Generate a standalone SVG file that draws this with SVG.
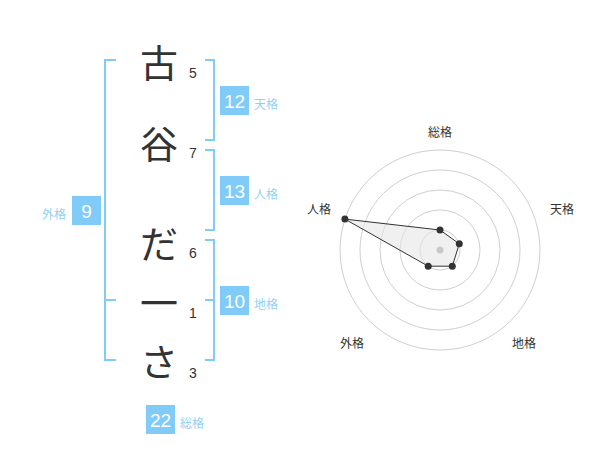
<svg xmlns="http://www.w3.org/2000/svg" width="600" height="470" viewBox="0 0 600 470">
<style>
.ch{font-family:"Noto Sans CJK JP","Noto Sans CJK SC",sans-serif;font-size:38px;fill:#333;text-anchor:middle;dominant-baseline:central}
.num{font-family:"Liberation Sans",Arial,sans-serif;font-size:14px;fill:#333;text-anchor:middle}
.box{fill:#80cbf7}
.bt{font-family:"Liberation Sans",Arial,sans-serif;font-size:19px;fill:#fff;text-anchor:middle}
.lb{font-family:"Noto Sans CJK JP","Noto Sans CJK SC",sans-serif;font-size:12px;fill:#8fd1f7}
.br{fill:none;stroke:#80cbf7;stroke-width:2}
.ring{fill:none;stroke:#cfcfcf;stroke-width:1}
.rl{font-family:"Noto Sans CJK JP","Noto Sans CJK SC",sans-serif;font-size:12px;fill:#333;text-anchor:middle;dominant-baseline:central}
.pt{fill:#333}
</style>
<rect width="600" height="470" fill="#fff"/>
<g id="connectors">
<path class="br" d="M116,60 H105 V360 H116 M105,300 H116"/>
<path class="br" d="M205,60 H214 V140 H205"/>
<path class="br" d="M205,150 H214 V230 H205"/>
<path class="br" d="M205,240 H214 V360 H205 M205,300 H214"/>
</g>
<g id="chars">
<text class="ch" x="159" y="60">古</text>
<text class="ch" x="159" y="141">谷</text>
<text class="ch" x="159" y="241">だ</text>
<text class="ch" x="159" y="300">一</text>
<text class="ch" x="159" y="359">さ</text>
</g>
<g id="strokes">
<text class="num" x="193" y="78">5</text>
<text class="num" x="193" y="158">7</text>
<text class="num" x="193" y="258">6</text>
<text class="num" x="193" y="318">1</text>
<text class="num" x="193" y="378">3</text>
</g>
<g id="tenkaku">
<rect class="box" x="220" y="86" width="29" height="29"/>
<text class="bt" x="234.5" y="107.5">12</text>
<text class="lb" x="254" y="108.5">天格</text>
</g>
<g id="jinkaku">
<rect class="box" x="220" y="176" width="29" height="29"/>
<text class="bt" x="234.5" y="197.5">13</text>
<text class="lb" x="254" y="198.5">人格</text>
</g>
<g id="chikaku">
<rect class="box" x="220" y="286" width="29" height="29"/>
<text class="bt" x="234.5" y="307.5">10</text>
<text class="lb" x="254" y="308.5">地格</text>
</g>
<g id="gaikaku">
<rect class="box" x="72" y="196" width="29" height="29"/>
<text class="bt" x="86.5" y="217.5">9</text>
<text class="lb" x="66" y="218.5" text-anchor="end">外格</text>
</g>
<g id="soukaku">
<rect class="box" x="146" y="405" width="29" height="29"/>
<text class="bt" x="160.5" y="426.5">22</text>
<text class="lb" x="180" y="427.5">総格</text>
</g>
<g id="radar">
<circle class="ring" cx="440" cy="250" r="20"/>
<circle class="ring" cx="440" cy="250" r="40"/>
<circle class="ring" cx="440" cy="250" r="60"/>
<circle class="ring" cx="440" cy="250" r="80"/>
<circle class="ring" cx="440" cy="250" r="100"/>
<polygon points="440,230 459.3,243.8 452.3,266.2 428.2,266.2 344.9,219.1" fill="#e6e6e6" fill-opacity="0.6" stroke="#333" stroke-width="1"/>
<circle cx="440" cy="250" r="3.5" fill="#c8c8c8"/>
<circle class="pt" cx="440" cy="230" r="3.5"/>
<circle class="pt" cx="459.3" cy="243.8" r="3.5"/>
<circle class="pt" cx="452.3" cy="266.2" r="3.5"/>
<circle class="pt" cx="428.2" cy="266.2" r="3.5"/>
<circle class="pt" cx="344.9" cy="219.1" r="3.5"/>
<text class="rl" x="440" y="131">総格</text>
<text class="rl" x="562" y="208">天格</text>
<text class="rl" x="319" y="208">人格</text>
<text class="rl" x="352" y="342">外格</text>
<text class="rl" x="524" y="342">地格</text>
</g>
</svg>
